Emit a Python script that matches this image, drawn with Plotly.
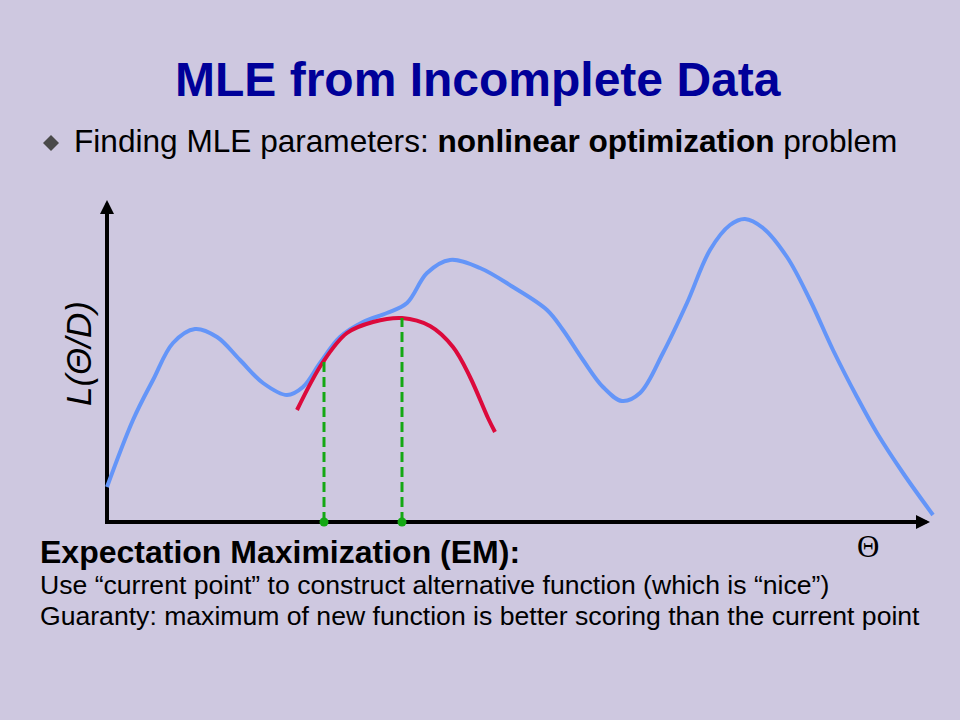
import plotly.graph_objects as go

# ---------------- data (theta, L) ----------------
theta_likelihood = [0, 26, 46, 66, 88, 110, 133, 156, 180, 196, 213, 233, 256, 280, 300,
                    320, 343, 373, 406, 440, 456, 476, 496, 515, 533, 556, 580, 603, 623,
                    638, 656, 680, 703, 726, 750, 770, 796, 826]
L_likelihood = [35, 102, 142, 179, 193, 185, 162, 139, 127, 135, 159, 185, 200, 209, 219,
                249, 262, 254, 235, 212, 192, 162, 135, 121, 129, 169, 219, 272, 297,
                303, 294, 265, 222, 172, 125, 89, 49, 7]

theta_surrogate = [190, 216, 240, 266, 295, 323, 346, 363, 381, 388]
L_surrogate = [112, 160, 189, 200, 204, 196, 175, 145, 104, 90]

theta_em_points = [217, 295]   # current point, maximum of new function
L_em_points = [160, 204]

title_text = "MLE from Incomplete Data"
bullet_text = "Finding MLE parameters: <b>nonlinear optimization</b> problem"
em_title = "<b>Expectation Maximization (EM):</b>"
em_line1 = "Use “current point” to construct alternative function (which is “nice”)"
em_line2 = "Guaranty: maximum of new function is better scoring than the current point"
y_label = "<i>L(Θ/D)</i>"
x_label = "Θ"

# ---------------- styles ----------------
BG = "#CEC8E0"
BLUE = "#6495F8"
RED = "#DC0A3C"
GREEN = "#14A814"
TITLE = "#000099"
FONT = "Liberation Sans"

W, H = 960, 720
X_RANGE = [-107, 853]
Y_RANGE = [-198, 522]
X_TIP, Y_TIP = 823, 322

def px(x):
    return x / W

def py(y):
    return 1 - y / H

fig = go.Figure()

fig.add_trace(go.Scatter(x=theta_likelihood, y=L_likelihood, mode="lines",
                         line=dict(color=BLUE, width=4, shape="spline", smoothing=1.0),
                         hoverinfo="skip"))
fig.add_trace(go.Scatter(x=theta_surrogate, y=L_surrogate, mode="lines",
                         line=dict(color=RED, width=4, shape="spline", smoothing=1.0),
                         hoverinfo="skip"))
for t, l in zip(theta_em_points, L_em_points):
    fig.add_trace(go.Scatter(x=[t, t], y=[0, l], mode="lines",
                             line=dict(color=GREEN, width=3, dash="10px,5px"),
                             hoverinfo="skip"))
fig.add_trace(go.Scatter(x=theta_em_points, y=[0] * len(theta_em_points), mode="markers",
                         marker=dict(color=GREEN, size=9), hoverinfo="skip"))

shapes = [
    dict(type="line", xref="x", yref="y", x0=0, y0=0, x1=X_TIP - 8, y1=0,
         line=dict(color="black", width=4), layer="below"),
    dict(type="line", xref="x", yref="y", x0=0, y0=-2, x1=0, y1=Y_TIP - 8,
         line=dict(color="black", width=4), layer="below"),
    # bullet diamond
    dict(type="path", xref="paper", yref="paper",
         path=f"M {px(43)} {py(143)} L {px(51)} {py(135)} L {px(59)} {py(143)} L {px(51)} {py(151)} Z",
         fillcolor="#4A4A4A", line=dict(width=0)),
]

annotations = [
    dict(x=X_TIP, y=0, ax=X_TIP - 20, ay=0, xref="x", yref="y", axref="x", ayref="y",
         text="", showarrow=True, arrowhead=2, arrowsize=0.7, arrowwidth=4, arrowcolor="black"),
    dict(x=0, y=Y_TIP, ax=0, ay=Y_TIP - 20, xref="x", yref="y", axref="x", ayref="y",
         text="", showarrow=True, arrowhead=2, arrowsize=0.7, arrowwidth=4, arrowcolor="black"),
    dict(x=px(478), y=py(79), xref="paper", yref="paper", text=f"<b>{title_text}</b>",
         showarrow=False, xanchor="center", yanchor="middle",
         font=dict(family=FONT, size=48, color=TITLE)),
    dict(x=px(72), y=py(141), xref="paper", yref="paper", text=bullet_text,
         showarrow=False, xanchor="left", yanchor="middle",
         font=dict(family=FONT, size=31.6, color="black")),
    dict(x=px(38), y=py(552), xref="paper", yref="paper", text=em_title,
         showarrow=False, xanchor="left", yanchor="middle",
         font=dict(family=FONT, size=32, color="black")),
    dict(x=px(38), y=py(585), xref="paper", yref="paper", text=em_line1,
         showarrow=False, xanchor="left", yanchor="middle",
         font=dict(family=FONT, size=26.6, color="black")),
    dict(x=px(38), y=py(616), xref="paper", yref="paper", text=em_line2,
         showarrow=False, xanchor="left", yanchor="middle",
         font=dict(family=FONT, size=26.6, color="black")),
    dict(x=px(78), y=py(354), xref="paper", yref="paper", text=y_label, textangle=-90,
         showarrow=False, xanchor="center", yanchor="middle",
         font=dict(family=FONT, size=35, color="black")),
    dict(x=px(868), y=py(546), xref="paper", yref="paper", text=x_label,
         showarrow=False, xanchor="center", yanchor="middle",
         font=dict(family="Liberation Serif", size=31, color="black")),
]

fig.update_layout(
    width=W, height=H,
    margin=dict(l=0, r=0, t=0, b=0),
    paper_bgcolor=BG, plot_bgcolor=BG,
    showlegend=False,
    xaxis=dict(range=X_RANGE, visible=False, fixedrange=True, domain=[0, 1]),
    yaxis=dict(range=Y_RANGE, visible=False, fixedrange=True, domain=[0, 1]),
    shapes=shapes,
    annotations=annotations,
)

fig.write_html("out.html", config={"displayModeBar": False},
               post_script="document.body.style.margin='0';document.body.style.overflow='hidden';")
